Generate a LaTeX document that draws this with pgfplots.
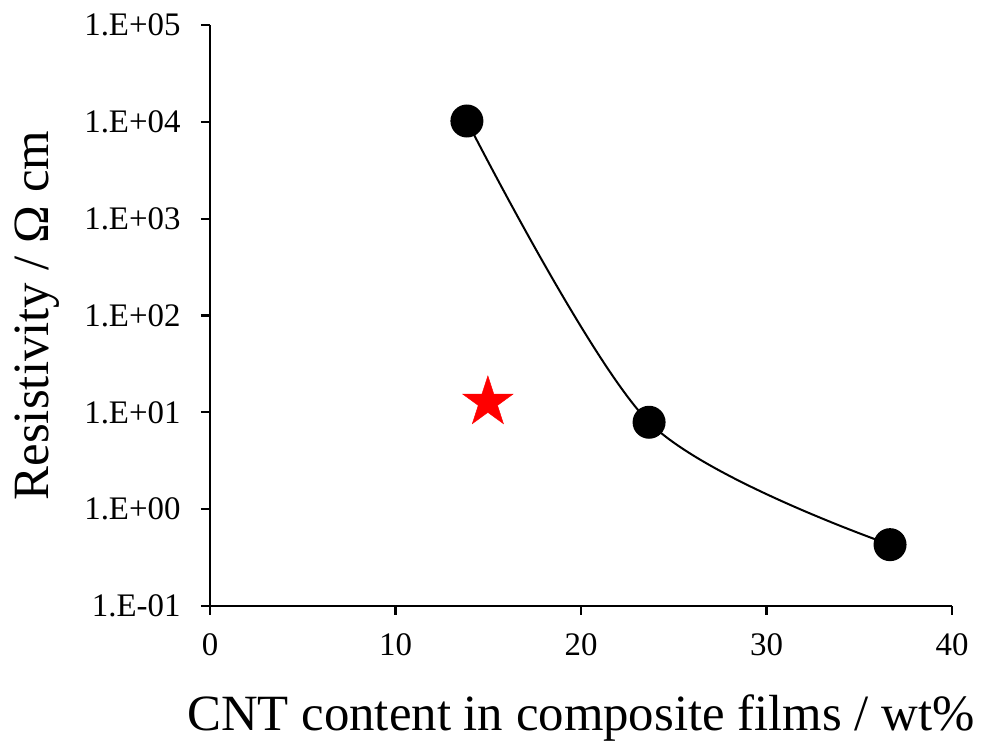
\documentclass[border=0pt]{standalone}
\usepackage{fontspec}
\setmainfont{Liberation Serif}
\usepackage{pgfplots}
\pgfplotsset{compat=1.18}
\pgfdeclareplotmark{fstar}{%
  \pgfpathmoveto{\pgfpointpolar{90}{\pgfplotmarksize}}%
  \pgfpathlineto{\pgfpointpolar{126}{0.382\pgfplotmarksize}}%
  \pgfpathlineto{\pgfpointpolar{162}{\pgfplotmarksize}}%
  \pgfpathlineto{\pgfpointpolar{198}{0.382\pgfplotmarksize}}%
  \pgfpathlineto{\pgfpointpolar{234}{\pgfplotmarksize}}%
  \pgfpathlineto{\pgfpointpolar{270}{0.382\pgfplotmarksize}}%
  \pgfpathlineto{\pgfpointpolar{306}{\pgfplotmarksize}}%
  \pgfpathlineto{\pgfpointpolar{342}{0.382\pgfplotmarksize}}%
  \pgfpathlineto{\pgfpointpolar{18}{\pgfplotmarksize}}%
  \pgfpathlineto{\pgfpointpolar{54}{0.382\pgfplotmarksize}}%
  \pgfpathclose
  \pgfusepathqfillstroke
}
\begin{document}
\begin{tikzpicture}
\useasboundingbox (-210bp,-144bp) rectangle (775bp,606bp);
\begin{axis}[
  at={(0,0)}, anchor=south west,
  scale only axis,
  width=742bp, height=581bp,
  xmin=0, xmax=40,
  ymode=log, ymin=0.1, ymax=1e5,
  axis lines=left,
  axis line style={-, line width=2.2bp},
  xtick={0,10,20,30,40},
  ytick={0.1,1,10,100,1000,10000,100000},
  yticklabels={1.E-01,1.E+00,1.E+01,1.E+02,1.E+03,1.E+04,1.E+05},
  yminorticks=false,
  tick align=outside,
  major tick length=9bp,
  every tick/.style={black, line width=2.2bp},
  /pgf/number format/assume math mode=true,
  tick label style={font=\fontsize{33}{37}\selectfont},
  xticklabel style={yshift=-15bp},
  yticklabel style={xshift=-17bp},
  label style={font=\fontsize{51}{56}\selectfont},
  xlabel={CNT content in composite films / wt\%},
  ylabel={Resistivity / Ω cm},
  xlabel style={yshift=-32bp},
  ylabel style={yshift=18bp},
  clip=false,
]
\addplot[black, line width=2bp, smooth, mark=*, mark size=15.5bp, mark options={fill=black}]
  coordinates {(13.85,10200) (23.67,7.9) (36.66,0.43)};
\addplot[only marks, mark=fstar, mark size=26.5bp, mark options={fill=red, draw=red}]
  coordinates {(14.98,12.7)};
\end{axis}
\end{tikzpicture}
\end{document}
